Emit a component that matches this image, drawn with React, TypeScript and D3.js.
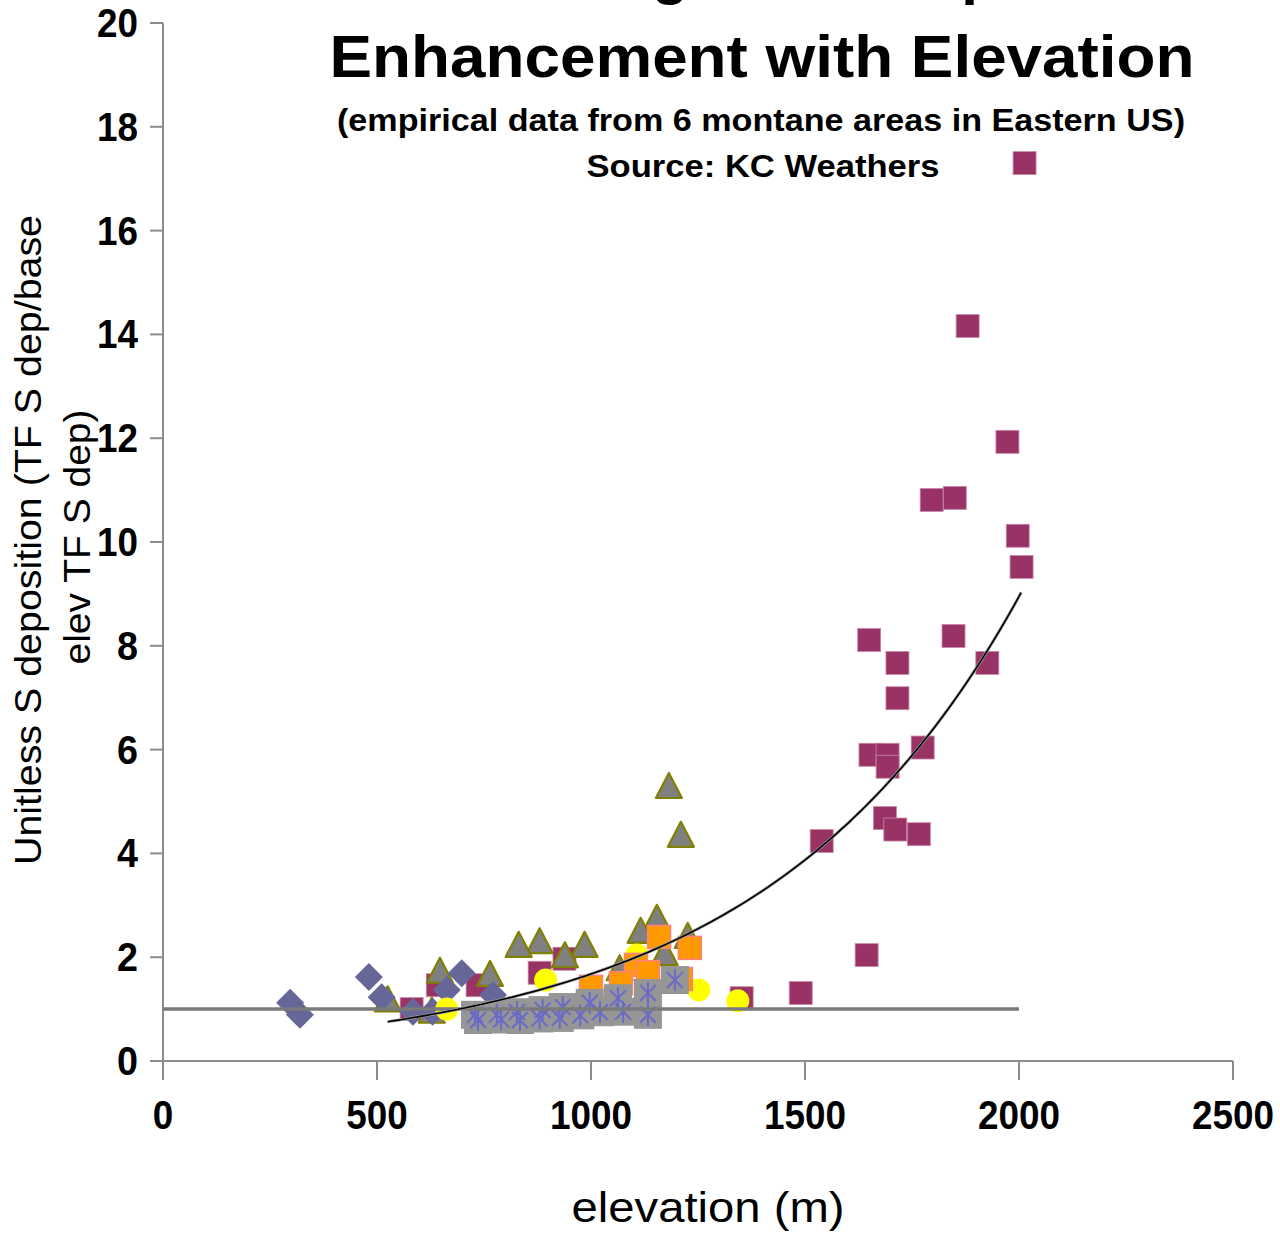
import React from "react";
import * as d3 from "d3";

// ---- data (elevation m, unitless enhancement) ----
const maroonSquares: [number, number][] = [
  [2013, 17.3], [1880, 14.16], [1973, 11.93], [1796, 10.81], [1850, 10.85],
  [1997, 10.12], [2006, 9.52], [1650, 8.11], [1847, 8.19], [1716, 7.67],
  [1926, 7.67], [1716, 6.99], [1775, 6.04], [1653, 5.9], [1693, 5.9],
  [1693, 5.67], [1687, 4.68], [1711, 4.46], [1766, 4.37], [1539, 4.24],
  [1644, 2.04], [1490, 1.31], [1352, 1.21], [938, 1.97], [880, 1.7],
  [642, 1.46], [735, 1.46], [581, 1.0],
];
const triangles: [number, number][] = [
  [1182, 5.26], [1210, 4.32], [1154, 2.72], [1116, 2.47], [1226, 2.37],
  [1172, 2.04], [985, 2.2], [939, 2.0], [880, 2.27], [831, 2.2],
  [647, 1.7], [764, 1.64], [525, 1.15], [628, 0.93], [1067, 1.75],
];
const diamonds: [number, number][] = [
  [297, 1.12], [320, 0.89], [481, 1.62], [511, 1.23], [584, 0.95],
  [630, 0.95], [663, 1.37], [698, 1.69], [771, 1.27],
];
const yellowCircles: [number, number][] = [
  [894, 1.56], [1252, 1.37], [1343, 1.16], [663, 1.0], [1107, 2.04],
];
const orangeSquares: [number, number][] = [
  [1159, 2.39], [1231, 2.18], [1105, 1.85], [1133, 1.71], [1070, 1.5],
  [1000, 1.43], [1210, 1.58],
];
const grayStars: [number, number][] = [
  [736, 0.79], [790, 0.8], [834, 0.79], [880, 0.82], [927, 0.83],
  [975, 0.88], [1021, 0.94], [1075, 0.95], [1133, 0.89],
  [729, 0.89], [780, 0.89], [827, 0.94], [887, 0.98], [934, 1.04],
  [997, 1.12], [1063, 1.21], [1133, 1.31], [1196, 1.56],
];
const xTicks = [0, 500, 1000, 1500, 2000, 2500];
const yTicks = [0, 2, 4, 6, 8, 10, 12, 14, 16, 18, 20];
const baseline: [number, number][] = [[0, 1], [2000, 1]];
// exponential trendline: y = a * exp(b * x)
const trendA = 0.314;
const trendB = 0.001675;
const trendRange: [number, number] = [525, 2012];

const titleLines = ["Throughfall S Deposition", "Enhancement with Elevation"];
const subtitle = "(empirical data from 6 montane areas in Eastern US)";
const sourceText = "Source: KC Weathers";
const yLabelLines = ["Unitless S deposition (TF S dep/base", "elev TF S dep)"];
const xLabel = "elevation (m)";

const FONT = "'Liberation Sans', Arial, sans-serif";

export default function App() {
  const x = d3.scaleLinear().domain([0, 2500]).range([163, 1233]);
  const y = d3.scaleLinear().domain([0, 20]).range([1061, 23]);
  const line = d3.line<[number, number]>().x((d) => x(d[0])).y((d) => y(d[1]));
  const trendPts: [number, number][] = d3
    .range(trendRange[0], trendRange[1] + 1, 10)
    .map((e) => [e, trendA * Math.exp(trendB * e)] as [number, number]);

  const axisColor = "#8c8c8c";

  return (
    <svg
      width={1280}
      height={1236}
      style={{ position: "absolute", left: 0, top: 0, background: "#fff" }}
      fontFamily={FONT}
    >
      <rect x={0} y={0} width={1280} height={1236} fill="#fff" />
      {/* titles (first line is cut off by the top edge, as in the original) */}
      <text x={482} y={-7} textAnchor="start" fontSize={60} fontWeight="bold" fill="#000"
        textLength={712} lengthAdjust="spacingAndGlyphs">{titleLines[0]}</text>
      <text x={762} y={77} textAnchor="middle" fontSize={60} fontWeight="bold" fill="#000"
        textLength={865} lengthAdjust="spacingAndGlyphs">{titleLines[1]}</text>
      <text x={761} y={131} textAnchor="middle" fontSize={32} fontWeight="bold" fill="#000"
        textLength={848} lengthAdjust="spacingAndGlyphs">{subtitle}</text>
      <text x={763} y={177} textAnchor="middle" fontSize={32} fontWeight="bold" fill="#000"
        textLength={353} lengthAdjust="spacingAndGlyphs">{sourceText}</text>

      {/* axes */}
      <line x1={x(0)} x2={x(0)} y1={y(20)} y2={1080} stroke={axisColor} strokeWidth={2} />
      <line x1={150} x2={x(2500)} y1={y(0)} y2={y(0)} stroke={axisColor} strokeWidth={2} />
      {yTicks.map((t) => (
        <g key={"y" + t}>
          <line x1={150} x2={x(0)} y1={y(t)} y2={y(t)} stroke={axisColor} strokeWidth={2} />
          <text x={138} y={y(t) + 14} textAnchor="end" fontSize={40} fontWeight="bold"
            textLength={t >= 10 ? 41 : 21} lengthAdjust="spacingAndGlyphs">{t}</text>
        </g>
      ))}
      {xTicks.map((t) => (
        <g key={"x" + t}>
          <line x1={x(t)} x2={x(t)} y1={y(0)} y2={1080} stroke={axisColor} strokeWidth={2} />
          <text x={x(t)} y={1129} textAnchor="middle" fontSize={40} fontWeight="bold"
            textLength={String(t).length * 20.5} lengthAdjust="spacingAndGlyphs">{t}</text>
        </g>
      ))}

      {/* axis labels */}
      <text transform={`translate(41,540) rotate(-90)`} textAnchor="middle" fontSize={37}
        textLength={650} lengthAdjust="spacingAndGlyphs">{yLabelLines[0]}</text>
      <text transform={`translate(90,537) rotate(-90)`} textAnchor="middle" fontSize={37}
        textLength={255} lengthAdjust="spacingAndGlyphs">{yLabelLines[1]}</text>
      <text x={708} y={1222} textAnchor="middle" fontSize={42}
        textLength={273} lengthAdjust="spacingAndGlyphs">{xLabel}</text>

      {/* series: maroon squares */}
      {maroonSquares.map((d, i) => (
        <rect key={"m" + i} x={x(d[0]) - 11.5} y={y(d[1]) - 11.5} width={23} height={23}
          fill="#993366" stroke="#c88aa8" strokeWidth={0.8} />
      ))}
      {/* triangles */}
      {triangles.map((d, i) => {
        const cx = x(d[0]);
        const cy = y(d[1]);
        return (
          <path key={"t" + i}
            d={`M${cx},${cy - 15}L${cx + 13},${cy + 10}L${cx - 13},${cy + 10}Z`}
            fill="#808080" stroke="#808000" strokeWidth={2.2} strokeLinejoin="round" />
        );
      })}
      {/* diamonds */}
      {diamonds.map((d, i) => {
        const cx = x(d[0]);
        const cy = y(d[1]);
        return (
          <path key={"d" + i}
            d={`M${cx},${cy - 14}L${cx + 14},${cy}L${cx},${cy + 14}L${cx - 14},${cy}Z`}
            fill="#666699" />
        );
      })}
      {/* yellow circles */}
      {yellowCircles.map((d, i) => (
        <circle key={"c" + i} cx={x(d[0])} cy={y(d[1])} r={11.5} fill="#FFFF00" />
      ))}
      {/* orange squares */}
      {orangeSquares.map((d, i) => (
        <rect key={"o" + i} x={x(d[0]) - 11.5} y={y(d[1]) - 11.5} width={23} height={23}
          fill="#FF9900" stroke="#FF8080" strokeWidth={1.5} />
      ))}
      {/* gray squares with asterisks */}
      {grayStars.map((d, i) => (
        <rect key={"gs" + i} x={x(d[0]) - 14} y={y(d[1]) - 14} width={28} height={28}
          fill="#969696" />
      ))}
      {grayStars.map((d, i) => {
        const cx = x(d[0]);
        const cy = y(d[1]);
        const r = 11;
        const k = r * 0.72;
        return (
          <path key={"st" + i}
            d={`M${cx},${cy - r}L${cx},${cy + r}M${cx - k},${cy - k}L${cx + k},${cy + k}M${cx - k},${cy + k}L${cx + k},${cy - k}`}
            stroke="#6a6ac8" strokeWidth={2} fill="none" />
        );
      })}

      {/* reference line and trendline */}
      <path d={line(baseline) || ""} stroke="#7a7a7a" strokeWidth={3.5} fill="none" />
      <path d={line(trendPts) || ""} stroke="#9a9a9a" strokeWidth={3} fill="none" />
      <path d={line(trendPts) || ""} stroke="#000" strokeWidth={1.6} fill="none" />
    </svg>
  );
}
